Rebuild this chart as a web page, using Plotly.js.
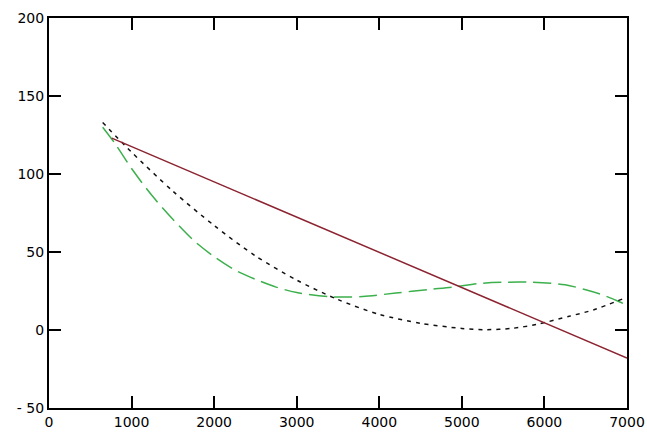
<!DOCTYPE html>
<html>
<head>
<meta charset="utf-8">
<script src="https://cdn.plot.ly/plotly-3.0.1.min.js"></script>
<style>html,body{margin:0;padding:0;background:#fff;}#chart{width:647px;height:432px;}</style>
</head>
<body>
<div id="chart"></div>
<script>
// Straight (red) line
const lineX = [760, 7000];
const lineY = [123, -18];

// Black dotted curve
const dotX = [650, 1000, 1500, 2000, 2500, 3000, 3500, 4000, 4500, 5000, 5300, 5600, 5900, 6300, 6600, 6950];
const dotY = [133, 114, 89, 67, 47.5, 32, 19.5, 10, 4.3, 1, 0.2, 1, 3.5, 8.8, 13, 20];

// Green long-dashed curve
const greenX = [650, 800, 1000, 1250, 1500, 1750, 2000, 2250, 2500, 2750, 3000, 3400, 3800, 4200, 4600, 4900, 5200, 5500, 5850, 6250, 6500, 6700, 6900, 6990];
const greenY = [130, 119.5, 103.5, 86, 71, 57.5, 47, 38.5, 32.5, 27.5, 24, 21.3, 21.5, 23.7, 26, 27.6, 29.8, 30.6, 30.6, 29, 25.8, 22.6, 18.3, 16];

const xTicks = [0, 1000, 2000, 3000, 4000, 5000, 6000, 7000];
const yTicks = [-50, 0, 50, 100, 150, 200];
const yTickText = ['- 50', '0', '50', '100', '150', '200'];

const traces = [
  {x: greenX, y: greenY, mode: 'lines', line: {color: '#3cb04c', width: 1.5, dash: '18px,7px', shape: 'spline', smoothing: 0.8}},
  {x: dotX, y: dotY, mode: 'lines', line: {color: '#111111', width: 1.5, dash: '4px,5px', shape: 'spline', smoothing: 0.8}},
  {x: lineX, y: lineY, mode: 'lines', line: {color: '#8b2330', width: 1.5}}
];

const axisCommon = {
  showgrid: false, zeroline: false, showline: true, linecolor: '#000', linewidth: 2,
  mirror: 'ticks', ticks: 'inside', ticklen: 12, tickwidth: 2, tickcolor: '#000',
  tickfont: {family: 'DejaVu Sans', size: 14, color: '#000'}
};

const layout = {
  width: 647, height: 432,
  margin: {l: 49, r: 20, t: 18, b: 24},
  paper_bgcolor: '#fff', plot_bgcolor: '#fff',
  showlegend: false,
  xaxis: Object.assign({}, axisCommon, {range: [0, 7000], tickvals: xTicks, ticktext: xTicks.map(String)}),
  yaxis: Object.assign({}, axisCommon, {range: [-50, 200], tickvals: yTicks, ticktext: yTickText})
};

Plotly.newPlot('chart', traces, layout, {staticPlot: true, displayModeBar: false});
</script>
</body>
</html>
